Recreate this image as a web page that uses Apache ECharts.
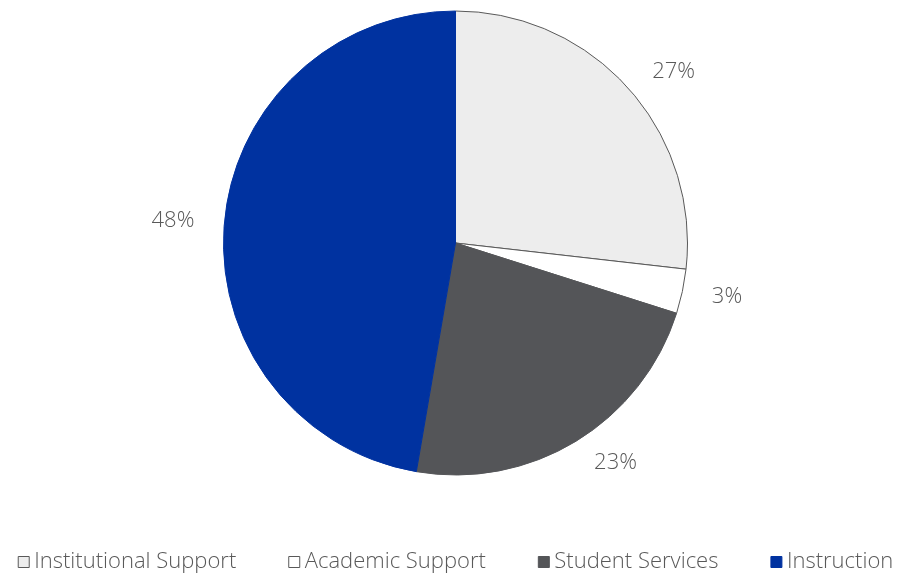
<!DOCTYPE html>
<html>
<head>
<meta charset="utf-8">
<script src="https://cdn.jsdelivr.net/npm/echarts@6/dist/echarts.min.js"></script>
<style>html,body{margin:0;padding:0;background:#fff;}#chart{width:911px;height:575px;}</style>
</head>
<body>
<div id="chart"></div>
<script>
const categories = ['Institutional Support', 'Academic Support', 'Student Services', 'Instruction'];
const values = [26.8, 3.1, 22.8, 47.3];
const labels = ['27%', '3%', '23%', '48%'];
const colors = ['#EDEDED', '#FFFFFF', '#545558', '#0032A0'];
const borders = ['#595959', '#595959', '#545558', '#0032A0'];

const chart = echarts.init(document.getElementById('chart'));
const data = categories.map((c, i) => ({
  name: c, value: values[i],
  itemStyle: { color: colors[i], borderColor: borders[i], borderWidth: 1 }
}));
const FONT = '"Open Sans"';
chart.setOption({
  animation: false,
  color: colors,
  legend: {
    bottom: -3, left: 'center',
    itemWidth: 11, itemHeight: 11, itemGap: 52,
    icon: 'rect',
    textStyle: { fontFamily: FONT, fontWeight: 300, fontSize: 22, color: '#595959' },
    data: categories.map((c, i) => ({ name: c, itemStyle: { borderColor: i < 2 ? '#595959' : colors[i], borderWidth: 1 } }))
  },
  series: [{
    type: 'pie',
    center: ['50%', 243],
    radius: 232,
    startAngle: 90,
    clockwise: true,
    data: data,
    label: {
      show: true, position: 'outside',
      formatter: p => labels[p.dataIndex],
      fontFamily: FONT, fontWeight: 300, fontSize: 22, color: '#595959'
    },
    labelLine: { show: false, length: 25, length2: 0 },
    emphasis: { disabled: true }
  }]
});
</script>
</body>
</html>
